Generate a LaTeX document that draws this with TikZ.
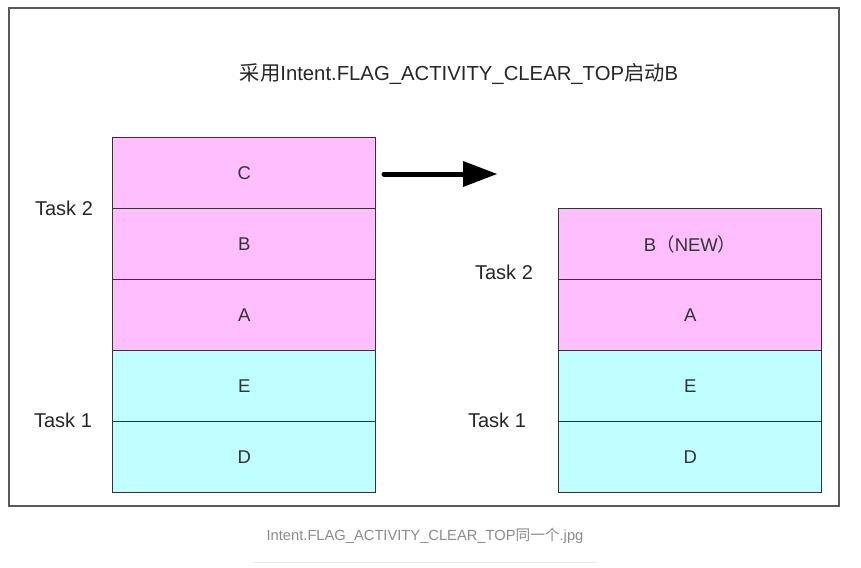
\documentclass[tikz,border=0pt]{standalone}
\usepackage{fontspec}
\setmainfont{Liberation Sans}
\newfontfamily\cjk{Noto Sans CJK SC}
\begin{document}
\begin{tikzpicture}[x=1pt,y=-1pt,
  cell/.style={draw=black!80,line width=1.4pt,minimum width=263pt,minimum height=71pt,inner sep=0pt,anchor=north west,font=\fontsize{18.5}{20}\selectfont,text=black!80},
  pinkcell/.style={cell,fill=pinkfill},
  cyancell/.style={cell,fill=cyanfill},
  tasklabel/.style={font=\fontsize{20}{22}\selectfont,text=black!85}]
\definecolor{pinkfill}{HTML}{FFBFFF}
\definecolor{cyanfill}{HTML}{BFFFFF}
\useasboundingbox (0,0) rectangle (861,567);
\fill[white] (0,0) rectangle (861,567);
\draw[black!65,line width=2pt] (9,8) rectangle (839,506);
\node[font=\fontsize{20.3}{22}\selectfont,text=black!85] (title) at (459,74) {{\cjk 采用}Intent.FLAG\_ACTIVITY\_CLEAR\_TOP{\cjk 启动}B};
% left stack
\node[pinkcell] (lc) at (112,137) {C};
\node[pinkcell] (lb) at (112,208) {B};
\node[pinkcell] (la) at (112,279) {A};
\node[cyancell] (le) at (112,350) {E};
\node[cyancell] (ld) at (112,421) {D};
% right stack
\node[pinkcell] (rb) at (558,208) {B{\cjk （}NEW{\cjk ）}};
\node[pinkcell] (ra) at (558,279) {A};
\node[cyancell] (re) at (558,350) {E};
\node[cyancell] (rd) at (558,421) {D};
% task labels
\node[tasklabel] (lt2) at (64,208) {Task 2};
\node[tasklabel] (lt1) at (63,420) {Task 1};
\node[tasklabel] (rt2) at (504,272) {Task 2};
\node[tasklabel] (rt1) at (497,420) {Task 1};
% arrow
\coordinate (as) at (384,174);
\coordinate (ae) at (497,174);
\coordinate (ah) at (463,174);
\draw[black,line width=5pt,line cap=round] (as) -- (ah);
\fill[black] (463,161) -- (ae) -- (463,187) -- cycle;
% caption
\node[font=\fontsize{14.7}{17}\selectfont,text=black!45] (cap) at (425,536) {Intent.FLAG\_ACTIVITY\_CLEAR\_TOP{\cjk 同一个}.jpg};
\draw[black!8,line width=1pt] (252,562) -- (597,562);
\end{tikzpicture}
\end{document}
